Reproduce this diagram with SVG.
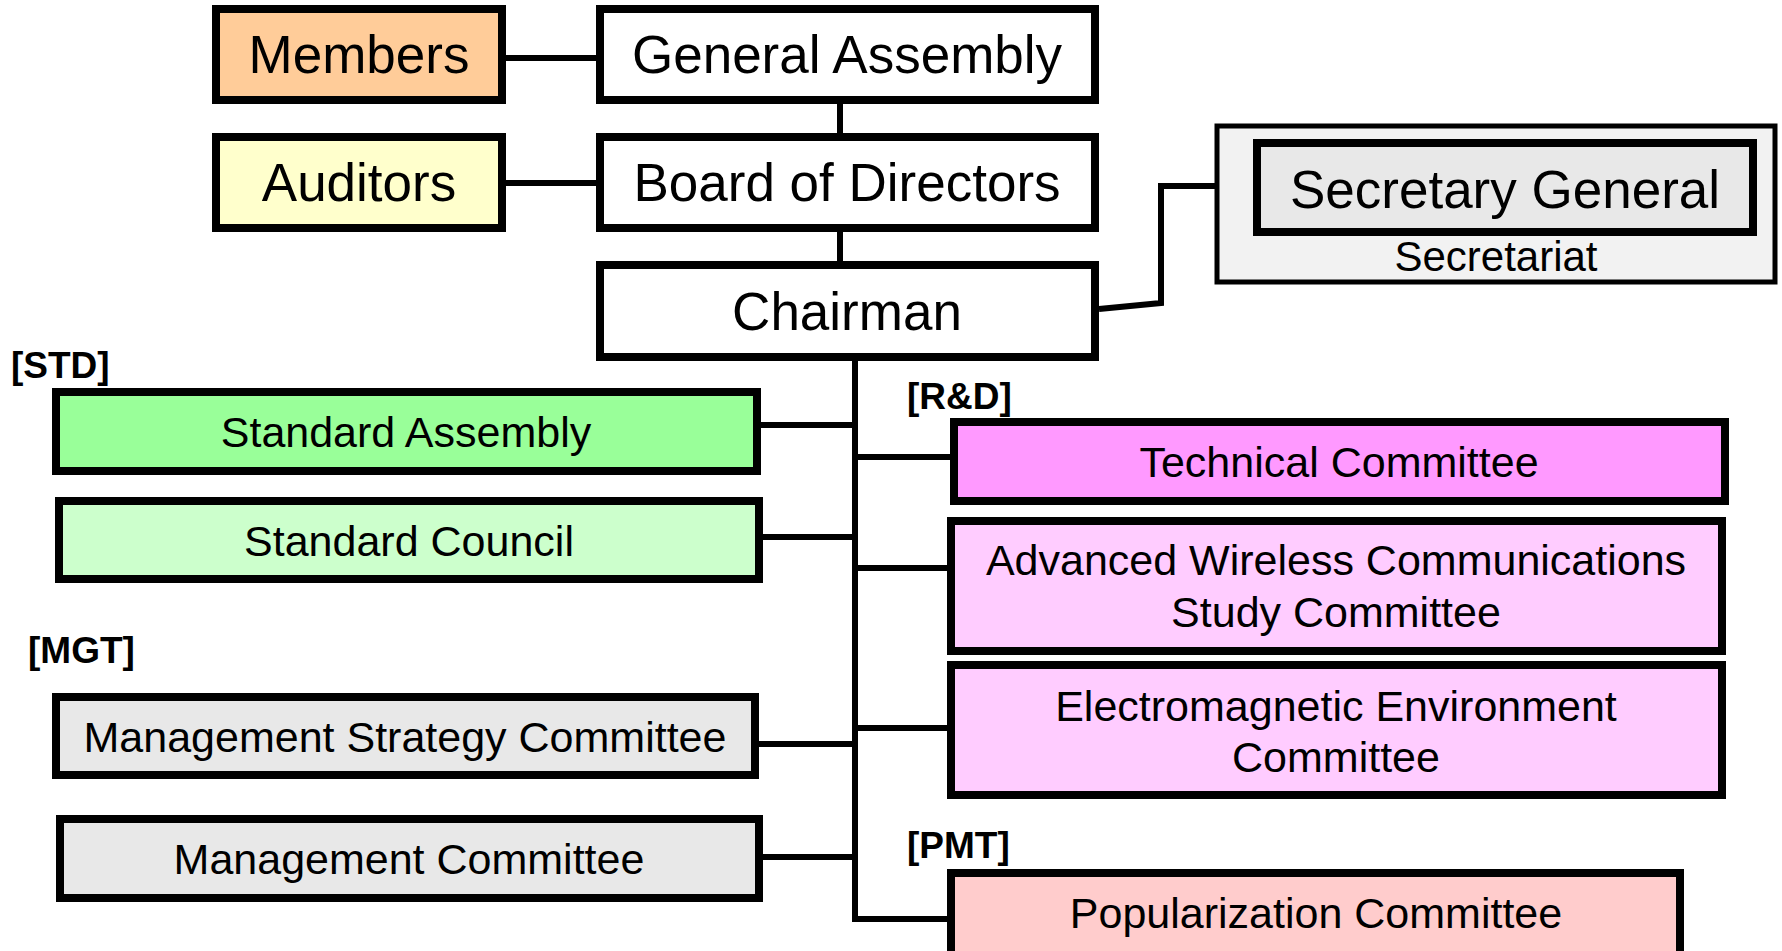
<svg xmlns="http://www.w3.org/2000/svg" width="1782" height="951" viewBox="0 0 1782 951">
<style>
.box{stroke:#000;stroke-width:8}
.t{font-family:"Liberation Sans",Arial,sans-serif;fill:#000;text-anchor:middle}
.big{font-size:53px}
.mid{font-size:43px}
.lab{font-family:"Liberation Sans",Arial,sans-serif;font-weight:bold;font-size:37px;fill:#000}
.c{fill:none;stroke:#000;stroke-width:6}
</style>
<rect width="1782" height="951" fill="#fff"/>
<g id="connectors">
<line class="c" x1="506" y1="58" x2="600" y2="58"/>
<line class="c" x1="506" y1="183" x2="600" y2="183"/>
<line class="c" x1="840" y1="104" x2="840" y2="137"/>
<line class="c" x1="840" y1="232" x2="840" y2="265"/>
<polyline class="c" points="1099,309 1161,303 1161,186 1257,186"/>
<polyline class="c" points="855,361 855,919 951,919"/>
<line class="c" x1="757" y1="425" x2="855" y2="425"/>
<line class="c" x1="759" y1="537" x2="855" y2="537"/>
<line class="c" x1="755" y1="744" x2="855" y2="744"/>
<line class="c" x1="759" y1="857" x2="855" y2="857"/>
<line class="c" x1="855" y1="457" x2="954" y2="457"/>
<line class="c" x1="855" y1="568" x2="951" y2="568"/>
<line class="c" x1="855" y1="728" x2="951" y2="728"/>
</g>
<g id="members"><rect class="box" x="216" y="9" width="286" height="91" fill="#FFCC99"/><text class="t big" x="359" y="73">Members</text></g>
<g id="general-assembly"><rect class="box" x="600" y="9" width="495" height="91" fill="#fff"/><text class="t big" x="847" y="73">General Assembly</text></g>
<g id="auditors"><rect class="box" x="216" y="137" width="286" height="91" fill="#FFFFCC"/><text class="t big" x="359" y="201">Auditors</text></g>
<g id="board"><rect class="box" x="600" y="137" width="495" height="91" fill="#fff"/><text class="t big" x="847" y="201">Board of Directors</text></g>
<g id="chairman"><rect class="box" x="600" y="265" width="495" height="92" fill="#fff"/><text class="t big" x="847" y="330">Chairman</text></g>
<g id="secretariat"><rect x="1217" y="126" width="558" height="156" fill="#F2F2F2" stroke="#000" stroke-width="5"/><text class="t" style="font-size:42px" x="1496" y="271">Secretariat</text></g>
<g id="secretary-general"><rect class="box" x="1257" y="143" width="496" height="89" fill="#E8E8E8"/><text class="t big" x="1505" y="208">Secretary General</text></g>
<g id="label-std"><text class="lab" x="11" y="378">[STD]</text></g>
<g id="standard-assembly"><rect class="box" x="56" y="392" width="701" height="79" fill="#99FF99"/><text class="t mid" x="406" y="447">Standard Assembly</text></g>
<g id="standard-council"><rect class="box" x="59" y="501" width="700" height="78" fill="#CCFFCC"/><text class="t mid" x="409" y="556">Standard Council</text></g>
<g id="label-mgt"><text class="lab" x="28" y="663">[MGT]</text></g>
<g id="management-strategy"><rect class="box" x="56" y="697" width="699" height="78" fill="#E8E8E8"/><text class="t mid" x="405" y="752">Management Strategy Committee</text></g>
<g id="management-committee"><rect class="box" x="60" y="819" width="699" height="79" fill="#E8E8E8"/><text class="t mid" x="409" y="874">Management Committee</text></g>
<g id="label-rd"><text class="lab" x="907" y="409">[R&amp;D]</text></g>
<g id="technical"><rect class="box" x="954" y="422" width="771" height="79" fill="#FF99FF"/><text class="t mid" x="1339" y="477">Technical Committee</text></g>
<g id="advanced-wireless"><rect class="box" x="951" y="521" width="771" height="130" fill="#FFCCFF"/><text class="t mid" x="1336" y="575">Advanced Wireless Communications</text><text class="t mid" x="1336" y="627">Study Committee</text></g>
<g id="electromagnetic"><rect class="box" x="951" y="665" width="771" height="130" fill="#FFCCFF"/><text class="t mid" x="1336" y="721">Electromagnetic Environment</text><text class="t mid" x="1336" y="772">Committee</text></g>
<g id="label-pmt"><text class="lab" x="907" y="858">[PMT]</text></g>
<g id="popularization"><rect class="box" x="951" y="873" width="729" height="100" fill="#FFCCCC"/><text class="t mid" x="1316" y="928">Popularization Committee</text></g>
</svg>
